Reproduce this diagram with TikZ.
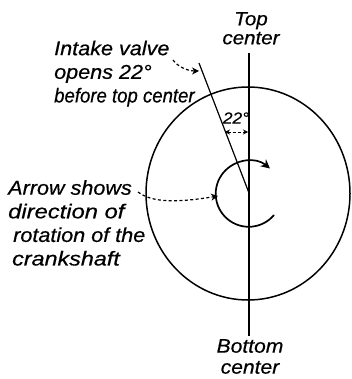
\documentclass[tikz,border=0pt]{standalone}
\usepackage{fontspec}
\setmainfont[ItalicFeatures={FakeStretch=1.08,FakeBold=0.5}]{Liberation Sans}
\usetikzlibrary{arrows.meta}
\newcommand{\sq}[2]{\scalebox{#1}[1]{#2}}
\tikzset{
  lbl/.style={font=\itshape\fontsize{20}{23.6}\selectfont, inner sep=0pt, align=left, text=black},
  lblc/.style={lbl, align=center},
  heavy/.style={line width=1.5pt, black},
  lead/.style={line width=1.2pt, dash pattern=on 3pt off 2.4pt, -{Stealth[length=7pt,width=7pt]}},
}
\begin{document}
\begin{tikzpicture}[x=1pt,y=-1pt]
\useasboundingbox (0,0) rectangle (351,379);
\coordinate (C) at (248,193.5);
\coordinate (VT) at (249,53);
\coordinate (VB) at (249,336);
\coordinate (IT) at (199,63);
\coordinate (IB) at (249,193);
\draw[heavy] (C) ellipse [x radius=102pt, y radius=106.5pt];
\draw[heavy, line width=1.2pt] (VT) -- (VB);
\draw[heavy, line width=1.2pt] (IT) -- (IB);
\coordinate (S) at (274,215);
\draw[heavy, line width=1.7pt,-{Stealth[length=9pt,width=9pt]}] (S) arc[start angle=-40, end angle=-310, radius=33pt];
\node[lblc, anchor=north, font=\itshape\fontsize{19}{19}\selectfont] (top) at (251,12) {Top\\center};
\node[lblc, anchor=north, font=\itshape\fontsize{19.5}{21}\selectfont] (bot) at (250,339) {Bottom\\center};
\node[lbl, anchor=north west] (intake) at (54,40.5) {Intake valve\\opens 22°\\\sq{0.86}{before top center}};
\node[lbl, anchor=north west] (arrow) at (8,180) {Arrow shows\\\sq{1.1}{direction of}\\\hspace{5pt}rotation of the\\\hspace{4pt}\sq{1.08}{crankshaft}};
\node[font=\itshape\fontsize{16}{16}\selectfont, inner sep=0pt] (ang) at (236,118) {22°};
\coordinate (L1a) at (173,60);
\coordinate (L1b) at (199,71);
\draw[lead] (L1a) .. controls (178,67) and (188,71) .. (L1b);
\coordinate (L2a) at (138,192);
\coordinate (L2b) at (218,196);
\draw[lead] (L2a) .. controls (150,201) and (170,204) .. (L2b);
\coordinate (Aa) at (225,132);
\coordinate (Ab) at (248,132);
\draw[line width=0.9pt, dash pattern=on 3pt off 2pt, {Stealth[length=5pt,width=5pt]}-{Stealth[length=5pt,width=5pt]}] (Aa) -- (Ab);
\end{tikzpicture}
\end{document}
